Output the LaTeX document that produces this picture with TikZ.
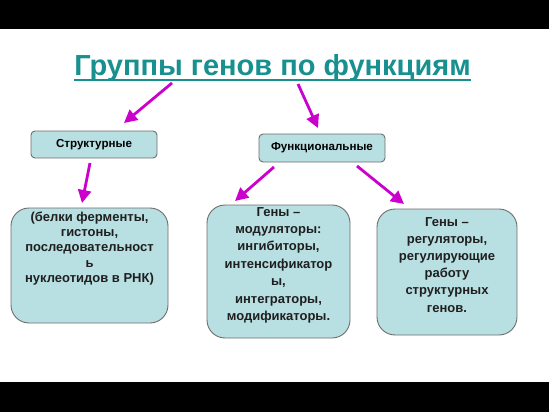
\documentclass[tikz,border=0pt]{standalone}
\usepackage{fontspec}
\setmainfont{Liberation Sans}
\usetikzlibrary{arrows.meta,positioning}
\definecolor{titlecol}{HTML}{17908F}
\definecolor{boxfill}{HTML}{B8DFE2}
\definecolor{boxline}{HTML}{6E6E6E}
\definecolor{arrcol}{HTML}{CC00CC}

\begin{document}
\begin{tikzpicture}[x=1pt,y=-1pt,
      smallbox/.style={draw=boxline,fill=boxfill,line width=0.9pt,rounded corners=4pt,inner sep=0pt},
      bigbox/.style={draw=boxline,fill=boxfill,line width=0.9pt,rounded corners=18pt,inner sep=0pt},
      boxtext/.style={align=center,inner sep=0pt,text=black!88,font=\bfseries\fontsize{13}{15.3}\selectfont},
      arr/.style={arrcol,line width=2.8pt,-{Triangle[length=13pt,width=13pt]}}]
			\useasboundingbox (0,0) rectangle (549,412);
			\fill[white] (0,0) rectangle (549,412);
			\fill[black] (0,0) rectangle (549,29);
			\fill[black] (0,382) rectangle (549,412);
			% title
			\node[inner sep=0pt,anchor=base,text=titlecol,font=\bfseries\fontsize{29}{33}\selectfont] (title) at (272.5,76) {Группы генов по функциям};
			\draw[titlecol,line width=2pt] ([yshift=-4pt]title.base west) -- ([yshift=-4pt]title.base east);
			% first level
			\node[smallbox,minimum width=126pt,minimum height=27pt,font=\bfseries\fontsize{11.6}{13}\selectfont] (struct) at (94,144.5) {Структурные};
			\node[smallbox,minimum width=126pt,minimum height=28pt,font=\bfseries\fontsize{11.6}{13}\selectfont] (func) at (322,148) {Функциональные};
			% second level
			\node[bigbox,minimum width=157pt,minimum height=115pt] (prot) at (89.5,265.5) {};
			\node[bigbox,minimum width=143pt,minimum height=133pt] (modul) at (278.5,271.5) {};
			\node[bigbox,minimum width=140pt,minimum height=126pt] (regul) at (447,272) {};
			\node[boxtext,anchor=north] (prottext) at (89.5,211.5) {(белки ферменты,\\гистоны,\\последовательност\\ь\\нуклеотидов в РНК)};
			\node[boxtext,anchor=north,font=\bfseries\fontsize{13}{17.4}\selectfont] (modultext) at (278.5,207) {Гены –\\модуляторы:\\ингибиторы,\\интенсификатор\\ы,\\интеграторы,\\модификаторы.};
			\node[boxtext,anchor=north,font=\bfseries\fontsize{13}{17.2}\selectfont] (regultext) at (447,217) {Гены –\\регуляторы,\\регулирующие\\работу\\структурных\\генов.};
			% arrows
			\coordinate (a1) at (172,83);  \coordinate (b1) at (124,123);
			\coordinate (a2) at (298,84);  \coordinate (b2) at (318,128);
			\coordinate (a3) at (90,163);  \coordinate (b3) at (82,203);
			\coordinate (a4) at (274,167); \coordinate (b4) at (235,201);
			\coordinate (a5) at (357,166); \coordinate (b5) at (404,204);
			\draw[arr] (a1) -- (b1);
			\draw[arr] (a2) -- (b2);
			\draw[arr] (a3) -- (b3);
			\draw[arr] (a4) -- (b4);
			\draw[arr] (a5) -- (b5);
		\end{tikzpicture}
\end{document}
